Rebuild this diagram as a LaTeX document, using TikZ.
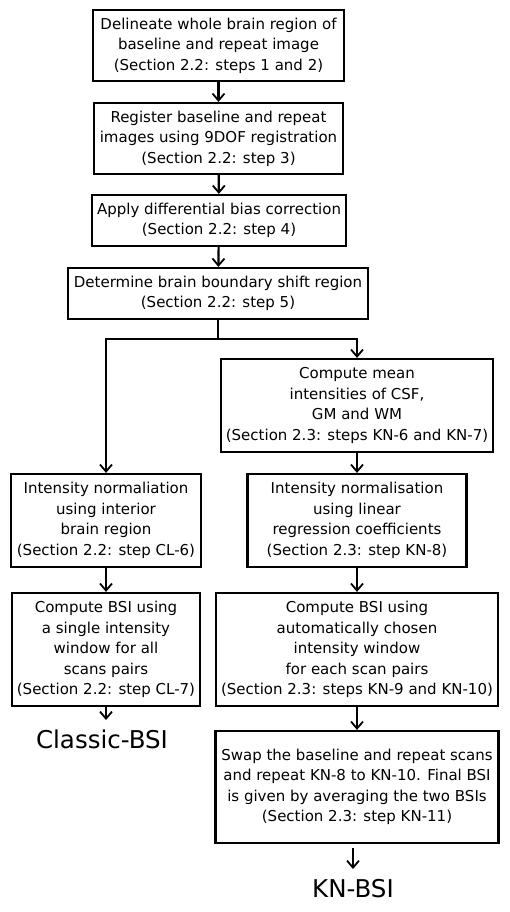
\documentclass[tikz,border=0pt]{standalone}
\usepackage{fontspec}
\setmainfont{DejaVu Sans}
\usetikzlibrary{arrows.meta}
\begin{document}
\begin{tikzpicture}[x=1pt,y=-1pt,
  box/.style={draw,line width=2.2pt,align=center,inner sep=0pt,font=\fontsize{15}{20.5}\selectfont},
  arr/.style={line width=2.2pt,-{Straight Barb[length=7pt,width=12pt,line width=1.8pt]}},
  lnk/.style={line width=2.2pt},
  big/.style={inner sep=2pt,outer ysep=8pt,font=\fontsize{24.5}{28}\selectfont}]
\useasboundingbox (0,0) rectangle (510,912);
\fill[white] (0,0) rectangle (510,912);
\node[box,minimum width=251pt,minimum height=71pt] (b1) at (218.5,45.5) {Delineate whole brain region of\\baseline and repeat image\\(Section 2.2: steps 1 and 2)};
\node[box,minimum width=249pt,minimum height=71pt] (b2) at (218.5,138.5) {Register baseline and repeat\\images using 9DOF registration\\(Section 2.2: step 3)};
\node[box,minimum width=254pt,minimum height=51pt] (b3) at (219,220.5) {Apply differential bias correction\\(Section 2.2: step 4)};
\node[box,minimum width=300pt,minimum height=51pt] (b4) at (218,293.5) {Determine brain boundary shift region\\(Section 2.2: step 5)};
\node[box,minimum width=272pt,minimum height=93pt] (r1) at (357,405.5) {Compute mean\\intensities of CSF,\\GM and WM\\(Section 2.3: steps KN-6 and KN-7)};
\node[box,minimum width=190pt,minimum height=93pt] (l1) at (106,520.5) {Intensity normaliation\\using interior\\brain region\\(Section 2.2: step CL-6)};
\node[box,minimum width=219pt,minimum height=93pt] (r2) at (357,520.5) {Intensity normalisation\\using linear\\regression coefficients\\(Section 2.3: step KN-8)};
\node[box,minimum width=188pt,minimum height=113pt] (l2) at (106,649.5) {Compute BSI using\\a single intensity\\window for all\\scans pairs\\(Section 2.2: step CL-7)};
\node[box,minimum width=282pt,minimum height=113pt] (r3) at (357,649.5) {Compute BSI using\\automatically chosen\\intensity window\\for each scan pairs\\(Section 2.3: steps KN-9 and KN-10)};
\node[box,minimum width=283pt,minimum height=112pt] (r4) at (357,787) {Swap the baseline and repeat scans\\and repeat KN-8 to KN-10. Final BSI\\is given by averaging the two BSIs\\(Section 2.3: step KN-11)};
\node[big,anchor=north] (cl) at (102,720) {Classic-BSI};
\node[big,anchor=north] (kn) at (353,869) {KN-BSI};
\coordinate (split) at (218,339);
\draw[arr] (b1) -- (b2);
\draw[arr] (b2) -- (b3);
\draw[arr] (b3) -- (b4);
\draw[lnk] (b4.south) -- (split);
\draw[arr] (split) -| (l1.north);
\draw[arr] (split) -| (r1.north);
\draw[arr] (r1) -- (r2);
\draw[arr] (l1) -- (l2);
\draw[arr] (r2) -- (r3);
\draw[arr] (r3) -- (r4);
\draw[arr] (l2.south) -- (l2.south |- cl.north);
\draw[arr] (r4.south -| kn.north) ++(0,4) -- (kn.north);
\end{tikzpicture}
\end{document}
